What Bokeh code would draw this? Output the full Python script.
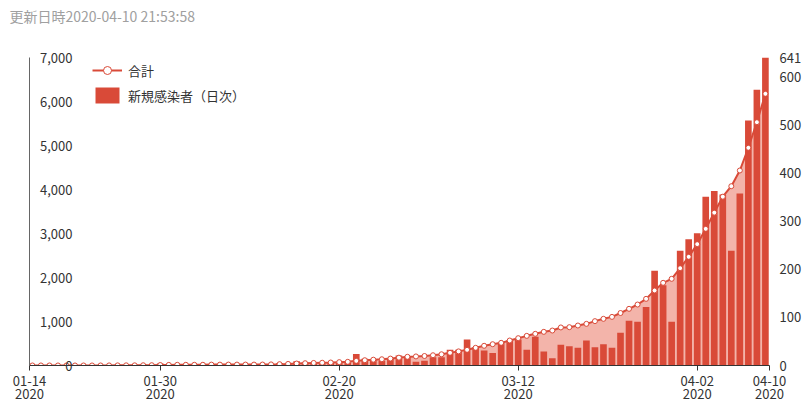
import pandas as pd
from bokeh.plotting import figure
from bokeh.models import (Range1d, LinearAxis, FixedTicker, NumeralTickFormatter,
                          Legend, LegendItem, Title)
from bokeh.embed import file_html
from bokeh.resources import INLINE

# ---------------- data ----------------
dates = pd.date_range("2020-01-14", "2020-04-10").strftime("%m-%d").tolist()

new_cases = [
    0, 1, 0, 0, 0, 0, 0, 0, 0, 0,
    1, 1, 1, 0, 2, 1, 4, 3, 2, 0,
    0, 1, 3, 0, 1, 0, 0, 0, 1, 3,
    5, 5, 9, 7, 5, 4, 6, 5, 6, 24,
    14, 12, 10, 15, 21, 20, 8, 10, 17, 17,
    33, 33, 54, 38, 31, 26, 48, 52, 54, 33,
    60, 29, 15, 43, 40, 37, 52, 38, 44, 37,
    68, 93, 91, 122, 197, 167, 91, 239, 263, 275,
    351, 363, 356, 239, 358, 510, 574, 641,
]

total = [
    0, 1, 1, 1, 1, 1, 1, 1, 1, 1,
    2, 3, 4, 4, 6, 7, 11, 14, 16, 16,
    16, 17, 20, 20, 21, 21, 21, 21, 22, 25,
    30, 36, 45, 52, 58, 63, 68, 76, 84, 106,
    120, 132, 142, 157, 178, 198, 206, 216, 233, 255,
    288, 321, 356, 402, 448, 484, 515, 568, 621, 674,
    720, 765, 795, 865, 871, 909, 947, 1008, 1061, 1105,
    1193, 1288, 1386, 1515, 1705, 1879, 1970, 2212, 2470, 2758,
    3106, 3474, 3837, 4075, 4432, 4948, 5530, 6175,
]

left_ticks = [0, 1000, 2000, 3000, 4000, 5000, 6000, 7000]
right_ticks = [0, 100, 200, 300, 400, 500, 600, 641]
x_tick_dates = ["01-30", "02-20", "03-12", "04-02"]
x_first_label = "01-14\n2020"
x_last_label = "04-10\n2020"

title_text = "更新日時2020-04-10 21:53:58"
legend_total = "合計"
legend_new = "新規感染者（日次）"

# ---------------- style ----------------
RED = "#d94a38"
PINK = "#f3b4aa"
FONT = "Noto Sans CJK JP"
X_START, X_END = 0.66, 87.48

idx = list(range(len(dates)))

p = figure(width=808, height=406, output_backend="svg", toolbar_location=None,
           title=None,
           x_range=Range1d(X_START, X_END), y_range=Range1d(0, 7000),
           min_border_left=29, min_border_right=39, min_border_top=57,
           min_border_bottom=41)
p.extra_y_ranges = {"right": Range1d(0, 641)}
p.outline_line_color = None
p.xgrid.visible = False
p.ygrid.visible = False

# spacer between frame and title, then the title itself (outermost)
spacer = Title(text=" ", text_font=FONT, text_font_size="10px", standoff=13)
p.add_layout(spacer, "above")
main_title = Title(text=title_text, align="left", offset=-20, standoff=4,
                   text_font=FONT, text_font_size="14px", text_font_style="normal",
                   text_color="#a0a0a0")
p.add_layout(main_title, "above")

# glyphs
area_r = p.varea(x=idx, y1=[0] * len(idx), y2=total, fill_color=PINK)
bar_r = p.vbar(x=idx, top=new_cases, width=0.78, y_range_name="right",
               fill_color=RED, line_color=None)
line_r = p.line(idx, total, line_color=RED, line_width=2)
mark_r = p.scatter(idx, total, marker="circle", size=5, fill_color="white",
                   line_color=RED, line_width=1)

# x axis
xticks = [X_START] + [dates.index(d) for d in x_tick_dates] + [X_END]
xa = p.xaxis[0]
xa.ticker = FixedTicker(ticks=xticks)
overrides = {X_START: x_first_label, X_END: x_last_label}
for d in x_tick_dates:
    overrides[dates.index(d)] = d + "\n2020"
xa.major_label_overrides = overrides
xa.axis_line_color = "#333333"
xa.major_tick_line_color = "#333333"
xa.major_tick_out = 5
xa.major_tick_in = 0
xa.minor_tick_line_color = None
xa.major_label_standoff = 0
xa.major_label_text_font = FONT
xa.major_label_text_font_size = "13px"
xa.major_label_text_line_height = 0.72
xa.major_label_text_color = "#333333"

# left axis (labels inside the plot)
ya = p.yaxis[0]
ya.ticker = FixedTicker(ticks=left_ticks)
ya.formatter = NumeralTickFormatter(format="0,0")
ya.axis_line_color = "#666666"
ya.major_tick_line_color = None
ya.minor_tick_line_color = None
ya.major_tick_out = 0
ya.major_tick_in = 0
ya.major_label_standoff = -43
ya.major_label_text_font = FONT
ya.major_label_text_font_size = "13px"
ya.major_label_text_color = "#333333"

# right axis
ra = LinearAxis(y_range_name="right", ticker=FixedTicker(ticks=right_ticks))
ra.axis_line_color = None
ra.major_tick_line_color = None
ra.minor_tick_line_color = None
ra.major_tick_out = 0
ra.major_tick_in = 0
ra.major_label_standoff = 10
ra.major_label_text_font = FONT
ra.major_label_text_font_size = "13px"
ra.major_label_text_color = "#333333"
p.add_layout(ra, "right")

# legend
legend = Legend(items=[LegendItem(label=legend_total, renderers=[line_r, mark_r]),
                       LegendItem(label=legend_new, renderers=[bar_r])],
                location=(63, 260), glyph_width=30, glyph_height=20, label_height=20,
                spacing=5, padding=0, margin=0, label_standoff=6,
                border_line_color=None, background_fill_alpha=0,
                label_text_font=FONT, label_text_font_size="13px",
                label_text_color="#333333")
p.add_layout(legend)

open("out.html", "w").write(file_html(p, INLINE))
